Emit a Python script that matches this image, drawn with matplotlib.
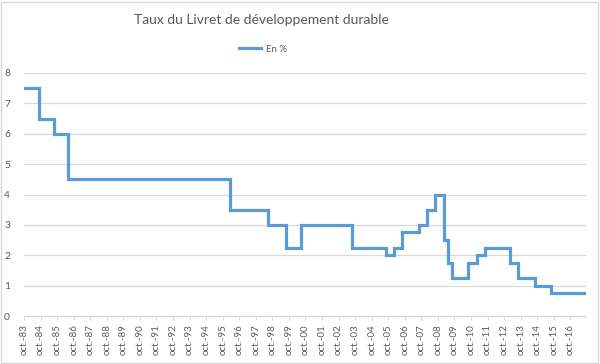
import matplotlib
matplotlib.use("Agg")
import matplotlib.pyplot as plt
from matplotlib.patches import Rectangle
import pandas as pd

# Rate change dates and values (En %)
change_dates = ["1983-10-01", "1984-08-16", "1985-08-01", "1986-06-01", "1996-03-01",
                "1998-06-16", "1999-08-01", "2000-07-01", "2003-08-01", "2005-08-01",
                "2006-02-01", "2006-08-01", "2007-08-01", "2008-02-01", "2008-08-01",
                "2009-02-01", "2009-05-01", "2009-08-01", "2010-08-01", "2011-02-01",
                "2011-08-01", "2013-02-01", "2013-08-01", "2014-08-01", "2015-08-01",
                "2017-09-01"]
rates = [7.5, 6.5, 6.0, 4.5, 3.5,
         3.0, 2.25, 3.0, 2.25, 2.0,
         2.25, 2.75, 3.0, 3.5, 4.0,
         2.5, 1.75, 1.25, 1.75, 2.0,
         2.25, 1.75, 1.25, 1.0, 0.75,
         0.75]
tick_years = list(range(1983, 2017))
tick_labels = [f"oct.-{y % 100:02d}" for y in tick_years]
y_ticks = [0, 1, 2, 3, 4, 5, 6, 7, 8]

title = "Taux du Livret de développement durable"
series_name = "En %"

plt.rcParams["font.family"] = ["Lato", "DejaVu Sans"]

dates = pd.to_datetime(change_dates)
ticks = pd.to_datetime([f"{y}-10-01" for y in tick_years])

fig = plt.figure(figsize=(6.0, 3.64), dpi=100)
ax = fig.add_axes([24/600, 1-316/364, (586-24)/600, (316-73)/364])

grey_text = "#595959"
grid_c = "#d9d9d9"

ax.plot(dates, rates, drawstyle="steps-post", color="#5B9BD5", lw=2.3,
        label=series_name, solid_joinstyle="miter")

ax.set_ylim(0, 8)
ax.set_yticks(y_ticks)
ax.set_xlim(pd.Timestamp("1983-10-01"), pd.Timestamp("2017-09-10"))
ax.set_xticks(ticks)
ax.set_xticklabels(tick_labels, rotation=90, fontsize=7, color=grey_text)
ax.tick_params(axis="y", length=0, labelsize=7.5, labelcolor=grey_text, pad=10)
ax.tick_params(axis="x", length=3, color=grid_c, pad=3)
ax.grid(axis="y", color=grid_c, lw=0.9)
ax.set_axisbelow(True)
for s in ["top", "right", "left"]:
    ax.spines[s].set_visible(False)
ax.spines["bottom"].set_color(grid_c)
ax.spines["bottom"].set_linewidth(0.9)

fig.text(261/600, 1-20/364, title, ha="center", va="center", fontsize=10,
         color=grey_text)
leg = fig.legend(loc="center", bbox_to_anchor=(263/600, 1-49/364), frameon=False,
                 fontsize=7, handlelength=2.2, handletextpad=0.5)
for t in leg.get_texts():
    t.set_color(grey_text)

fig.patches.append(Rectangle((1/600, 1/364), 597/600, 361/364, transform=fig.transFigure,
                             fill=False, edgecolor=grid_c, lw=1))

fig.savefig("out.png", dpi=100)
